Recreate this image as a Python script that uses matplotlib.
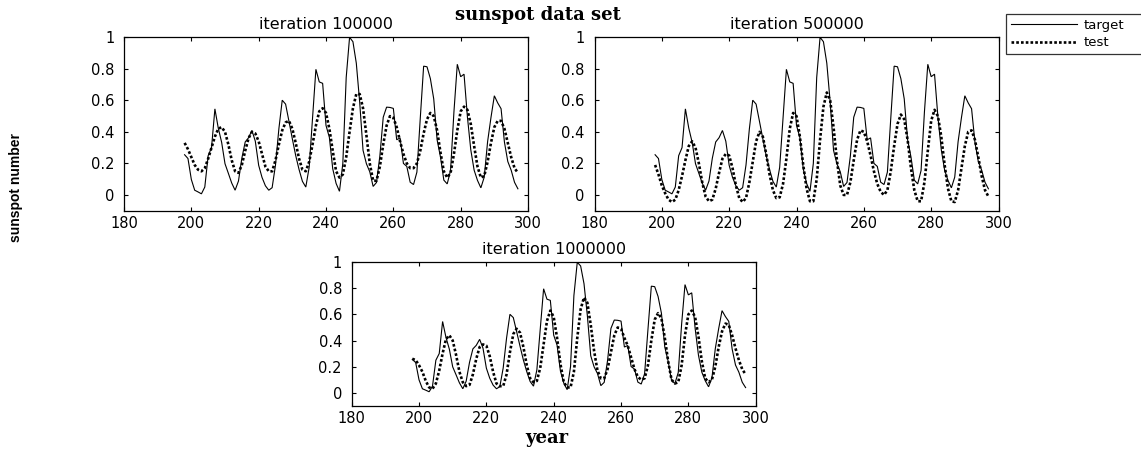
import numpy as np
import matplotlib
matplotlib.use("Agg")
import matplotlib.pyplot as plt
from matplotlib.lines import Line2D

# ---------------- data ----------------
years = list(range(198, 298))

target = [0.255, 0.231, 0.098, 0.030, 0.019, 0.007, 0.050, 0.249, 0.300, 0.546,
          0.424, 0.334, 0.198, 0.137, 0.075, 0.030, 0.088, 0.233, 0.336, 0.363,
          0.409, 0.341, 0.188, 0.111, 0.058, 0.030, 0.046, 0.190, 0.419, 0.601,
          0.576, 0.467, 0.356, 0.250, 0.161, 0.086, 0.050, 0.175, 0.487, 0.797,
          0.717, 0.708, 0.441, 0.365, 0.166, 0.073, 0.023, 0.200, 0.745, 1.000,
          0.972, 0.836, 0.590, 0.283, 0.198, 0.147, 0.054, 0.079, 0.247, 0.493,
          0.557, 0.555, 0.549, 0.350, 0.362, 0.200, 0.181, 0.081, 0.066, 0.145,
          0.486, 0.817, 0.813, 0.738, 0.609, 0.350, 0.241, 0.094, 0.070, 0.155,
          0.527, 0.829, 0.750, 0.766, 0.496, 0.287, 0.157, 0.092, 0.045, 0.113,
          0.338, 0.491, 0.629, 0.584, 0.547, 0.335, 0.212, 0.157, 0.080, 0.039]

test_100k = [0.33, 0.29, 0.24, 0.19, 0.16, 0.15, 0.17, 0.23, 0.30, 0.37,
             0.42, 0.43, 0.40, 0.32, 0.22, 0.15, 0.14, 0.19, 0.28, 0.36,
             0.40, 0.39, 0.34, 0.26, 0.18, 0.15, 0.15, 0.22, 0.32, 0.41,
             0.46, 0.47, 0.42, 0.33, 0.23, 0.16, 0.15, 0.21, 0.32, 0.44,
             0.53, 0.55, 0.52, 0.42, 0.28, 0.15, 0.11, 0.13, 0.24, 0.40,
             0.55, 0.64, 0.64, 0.55, 0.38, 0.20, 0.09, 0.09, 0.18, 0.32,
             0.44, 0.50, 0.49, 0.43, 0.34, 0.26, 0.20, 0.17, 0.17, 0.20,
             0.28, 0.39, 0.48, 0.52, 0.50, 0.41, 0.27, 0.15, 0.11, 0.14,
             0.26, 0.41, 0.53, 0.56, 0.54, 0.45, 0.31, 0.18, 0.11, 0.12,
             0.21, 0.33, 0.43, 0.47, 0.47, 0.42, 0.33, 0.24, 0.17, 0.14]

test_500k = [0.19, 0.13, 0.06, 0.01, -0.03, -0.045, -0.03, 0.03, 0.12, 0.22,
             0.31, 0.34, 0.30, 0.20, 0.08, -0.01, -0.04, -0.03, 0.04, 0.14,
             0.23, 0.26, 0.25, 0.17, 0.06, -0.02, -0.045, -0.02, 0.08, 0.21,
             0.34, 0.40, 0.37, 0.26, 0.13, 0.03, -0.02, -0.015, 0.07, 0.23,
             0.42, 0.52, 0.50, 0.37, 0.19, 0.04, -0.04, -0.04, 0.10, 0.35,
             0.56, 0.65, 0.60, 0.43, 0.22, 0.06, 0.00, 0.00, 0.08, 0.22,
             0.35, 0.41, 0.40, 0.34, 0.25, 0.15, 0.07, 0.02, 0.00, 0.03,
             0.15, 0.31, 0.45, 0.51, 0.48, 0.35, 0.17, 0.03, -0.04, -0.04,
             0.08, 0.28, 0.47, 0.54, 0.50, 0.37, 0.19, 0.04, -0.04, -0.045,
             0.03, 0.17, 0.31, 0.40, 0.41, 0.35, 0.24, 0.12, 0.03, -0.01]

test_1m = [0.26, 0.25, 0.21, 0.16, 0.09, 0.04, 0.03, 0.07, 0.17, 0.30,
           0.41, 0.44, 0.40, 0.29, 0.16, 0.08, 0.05, 0.06, 0.14, 0.26,
           0.35, 0.37, 0.36, 0.28, 0.16, 0.07, 0.05, 0.05, 0.14, 0.31,
           0.45, 0.49, 0.46, 0.35, 0.21, 0.11, 0.08, 0.09, 0.19, 0.37,
           0.55, 0.63, 0.58, 0.42, 0.22, 0.08, 0.04, 0.04, 0.16, 0.42,
           0.64, 0.73, 0.69, 0.52, 0.32, 0.17, 0.11, 0.11, 0.18, 0.31,
           0.44, 0.50, 0.49, 0.42, 0.36, 0.27, 0.18, 0.12, 0.10, 0.11,
           0.21, 0.40, 0.56, 0.61, 0.57, 0.42, 0.24, 0.10, 0.07, 0.08,
           0.21, 0.44, 0.60, 0.63, 0.58, 0.43, 0.24, 0.11, 0.08, 0.10,
           0.20, 0.35, 0.47, 0.53, 0.52, 0.44, 0.34, 0.25, 0.18, 0.14]

panel_titles = ["iteration 100000", "iteration 500000", "iteration 1000000"]
x_ticks = [180, 200, 220, 240, 260, 280, 300]
y_ticks = [0, 0.2, 0.4, 0.6, 0.8, 1]
y_tick_labels = ["0", "0.2", "0.4", "0.6", "0.8", "1"]
legend_labels = ["target", "test"]

# ---------------- figure ----------------
W, H = 1141, 450
fig = plt.figure(figsize=(W / 100, H / 100), dpi=100)
fig.patch.set_facecolor("white")

def frac(left, top, right, bottom):
    return [left / W, 1 - bottom / H, (right - left) / W, (bottom - top) / H]

rects = [frac(124, 37.3, 528, 210.7),
         frac(594.5, 37.3, 998.5, 210.7),
         frac(351.7, 262.3, 755.7, 405.7)]
tests = [test_100k, test_500k, test_1m]

tick_font = dict(family="DejaVu Sans", size=10.5)

for rect, tst, ttl in zip(rects, tests, panel_titles):
    ax = fig.add_axes(rect)
    ax.plot(years, target, color="black", lw=0.8, solid_joinstyle="miter")
    ax.plot(years, tst, color="black", lw=1.9, linestyle=(0, (1.0, 0.8)),
            dash_capstyle="butt")
    ax.set_xlim(180, 300)
    ax.set_ylim(-0.1, 1)
    ax.set_xticks(x_ticks)
    ax.set_xticklabels([str(t) for t in x_ticks], fontdict=tick_font)
    ax.set_yticks(y_ticks)
    ax.set_yticklabels(y_tick_labels, fontdict=tick_font)
    ax.tick_params(direction="in", length=3, width=0.8, top=True, right=True,
                   colors="black")
    ax.tick_params(axis="x", pad=4)
    ax.tick_params(axis="y", pad=7)
    for sp in ax.spines.values():
        sp.set_linewidth(0.9)
        sp.set_color("black")
    ax.set_title(ttl, family="DejaVu Sans", fontsize=11.5, pad=6)

fig.text(538 / W, 1 - 15 / H, "sunspot data set", ha="center", va="center",
         family="DejaVu Serif", fontweight="bold", fontsize=13)
fig.text(546.7 / W, 1 - 438 / H, "year", ha="center", va="center",
         family="DejaVu Serif", fontweight="bold", fontsize=13)
fig.text(16 / W, 1 - 187.5 / H, "sunspot number", ha="center", va="center",
         rotation=90, family="Liberation Sans", fontweight="bold", fontsize=10)

handles = [Line2D([], [], color="black", lw=0.8),
           Line2D([], [], color="black", lw=1.9, linestyle=(0, (1.0, 0.8)))]
leg = fig.legend(handles, legend_labels, loc="upper left",
                 bbox_to_anchor=(1006 / W, 1 - 53 / H, 137 / W, 39 / H),
                 mode="expand",
                 prop=dict(family="DejaVu Sans", size=9.5),
                 frameon=True, fancybox=False, handlelength=5.0,
                 handletextpad=0.5, labelspacing=0.35, borderpad=0.35,
                 borderaxespad=0)
leg.get_frame().set_edgecolor("black")
leg.get_frame().set_linewidth(0.9)

fig.savefig("out.png", dpi=100, facecolor="white")
